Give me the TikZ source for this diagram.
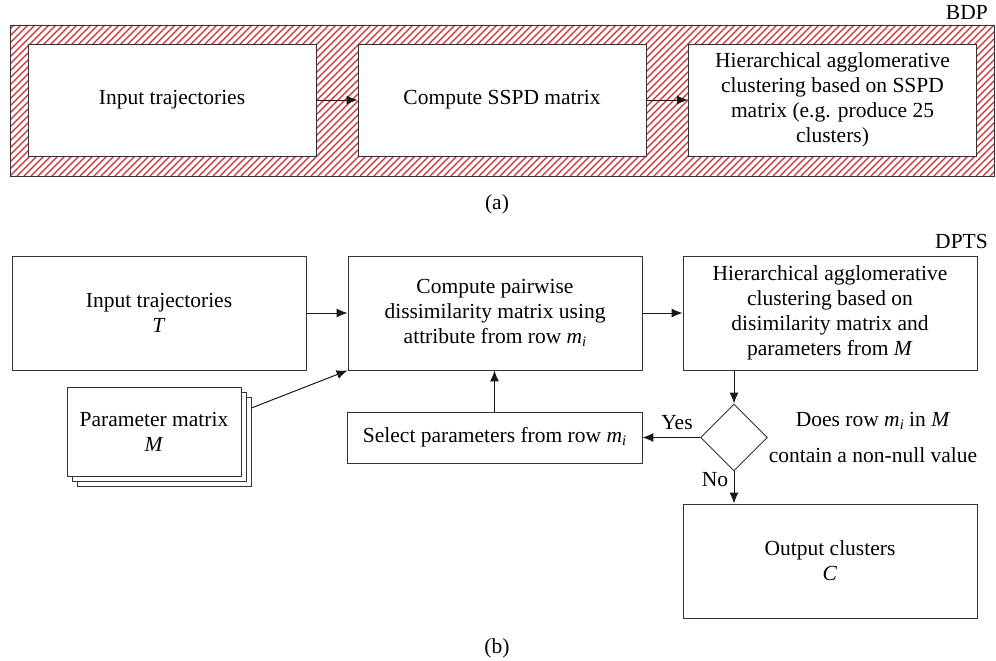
\documentclass[tikz,border=0pt]{standalone}
\usepackage{fontspec}
\setmainfont{Liberation Serif}
\usetikzlibrary{arrows.meta,shapes.geometric}
\definecolor{hatchred}{HTML}{CC2A2F}
\definecolor{edge}{HTML}{333333}
\newcommand{\rowmi}{\textit{m}\raisebox{-0.3ex}{\fontsize{14.5}{14.5}\selectfont\textit{i}}}
\begin{document}
\begin{tikzpicture}[x=1pt,y=-1pt,
  font=\fontsize{21.5}{25}\selectfont,
  box/.style={draw=edge, line width=0.9pt, fill=white, align=center, inner sep=0pt,
              minimum width=294pt, minimum height=114pt},
  topbox/.style={box, minimum width=288pt, minimum height=112pt},
  pbox/.style={box, minimum width=174pt, minimum height=89pt},
  arr/.style={-{Latex[length=11pt,width=9pt]}, draw=black!90, line width=1pt},
  lbl/.style={inner sep=0pt}
]
\useasboundingbox (0,0) rectangle (996,661);

% ---------- (a) BDP ----------
\begin{scope}
  \clip (10,25) rectangle (994,176);
  \foreach \i in {-200,-193,...,1000}
    \draw[hatchred, line width=1.2pt] (\i,176) -- (\i+151,25);
\end{scope}
\draw[edge, line width=0.9pt] (10,25) rectangle (994,176);
\node[lbl, anchor=east] (bdp) at (988,12) {BDP};

\node[topbox] (a1) at (172,100) {Input trajectories};
\node[topbox] (a2) at (502,100) {Compute SSPD matrix};
\node[topbox] (a3) at (832.5,100) {Hierarchical agglomerative\\clustering based on SSPD\\matrix (e.g. produce 25\\clusters)};
\draw[arr] (a1.east) -- (a2.west);
\draw[arr] (a2.east) -- (a3.west);
\node[lbl] (capa) at (497,204) {(a)};

% ---------- (b) DPTS ----------
\node[lbl, anchor=east] (dpts) at (988,241) {DPTS};

\node[box] (inp) at (159,313) {Input trajectories\\\textit{T}};
\node[box] (comp) at (495,313) {Compute pairwise\\dissimilarity matrix using\\attribute from row \rowmi};
\node[box] (hier) at (830,313) {Hierarchical agglomerative\\clustering based on\\disimilarity matrix and\\parameters from \textit{M}};

\node[pbox] (p3) at (164,441.5) {};
\node[pbox] (p2) at (159,436.5) {};
\node[pbox] (p1) at (154,431.5) {Parameter matrix\\\textit{M}};

\node[box, minimum width=295pt, minimum height=51pt] (sel) at (494.5,437.5) {Select parameters from row \rowmi};
\node[draw=edge, line width=0.9pt, fill=white, diamond, aspect=1, inner sep=0pt,
      minimum width=67pt, minimum height=67pt] (dec) at (734,437.5) {};
\node[lbl] (q1) at (873,421) {Does row \rowmi{} in \textit{M}};
\node[lbl] (q2) at (873,455) {contain a non-null value};

\node[box] (out) at (830,561) {Output clusters\\\textit{C}};

\coordinate (pstart) at (p3.east |- 0,408);
\draw[arr] (inp.east) -- (comp.west);
\draw[arr] (pstart) -- (comp.south west);
\draw[arr] (comp.east) -- (hier.west);
\draw[arr] (sel.north) -- (sel.north |- comp.south);
\draw[arr] (dec.north |- hier.south) -- (dec.north);
\draw[arr] (dec.west) -- (sel.east);
\draw[arr] (dec.south) -- (dec.south |- out.north);
\node[lbl] (yes) at (677,423) {Yes};
\node[lbl] (no) at (715,480) {No};

\node[lbl] (capb) at (497,648) {(b)};
\end{tikzpicture}
\end{document}
